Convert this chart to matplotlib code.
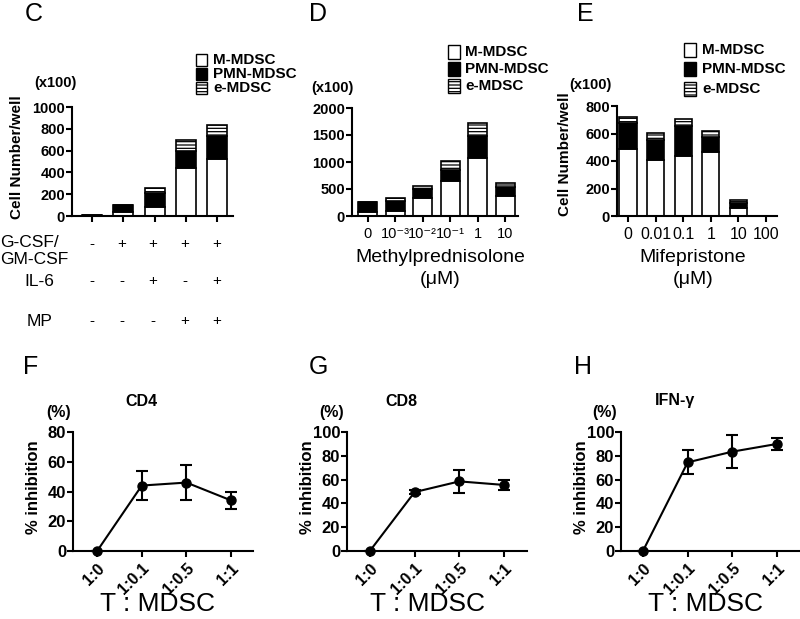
import matplotlib
matplotlib.use("Agg")
import matplotlib.pyplot as plt
from matplotlib.patches import Rectangle
import numpy as np

plt.rcParams['font.family'] = ['Liberation Sans', 'DejaVu Sans']
plt.rcParams['hatch.linewidth'] = 0.9

# ---------------- data ----------------
series_names = ["M-MDSC", "PMN-MDSC", "e-MDSC"]

c_m   = [3, 35, 78, 440, 525]
c_pmn = [2, 70, 135, 160, 210]
c_e   = [0, 0, 42, 100, 100]
c_rows = ["G-CSF/\nGM-CSF", "IL-6", "MP"]
c_signs = [["-", "+", "+", "+", "+"],
           ["-", "-", "+", "-", "+"],
           ["-", "-", "-", "+", "+"]]

d_labels = ["0", "10\u207b\u00b3", "10\u207b\u00b2", "10\u207b\u00b9", "1", "10"]
d_m   = [75, 95, 330, 645, 1065, 370]
d_pmn = [180, 185, 170, 205, 415, 175]
d_e   = [10, 45, 60, 165, 245, 60]

e_labels = ["0", "0.01", "0.1", "1", "10", "100"]
e_m   = [487, 407, 439, 468, 55, 2]
e_pmn = [187, 146, 215, 109, 40, 1]
e_e   = [44, 48, 51, 39, 20, 0]

ratio_labels = ["1:0", "1:0.1", "1:0.5", "1:1"]
cd4_mean = [0, 44, 46, 34]
cd4_err  = [0, 9.5, 11.5, 5.5]
cd8_mean = [0, 49.5, 58.5, 55.5]
cd8_err  = [0, 2, 9.7, 4]
ifn_mean = [0, 74.5, 83.5, 90]
ifn_err  = [0, 10, 14, 5]

# ---------------- layout helpers ----------------
W, H = 800, 619
fig = plt.figure(figsize=(W / 100, H / 100), dpi=100)


def axes_px(l, t, r, b):
    return fig.add_axes([l / W, 1 - b / H, (r - l) / W, (b - t) / H])


def fx(x):
    return x / W


def fy(y):
    return 1 - y / H


def style_axes(ax, ysize, bold=True):
    for s in ["top", "right"]:
        ax.spines[s].set_visible(False)
    for s in ["left", "bottom"]:
        ax.spines[s].set_linewidth(1.5)
    ax.tick_params(axis="both", width=1.5, length=4, direction="out", pad=1)
    for lab in ax.get_yticklabels():
        lab.set_fontsize(ysize)
        lab.set_fontweight("bold" if bold else "normal")


def stacked(ax, m, pmn, e, width):
    x = np.arange(len(m))
    m = np.array(m); pmn = np.array(pmn); e = np.array(e)
    ax.bar(x, m, width, color="white", edgecolor="black", linewidth=1.2, zorder=2)
    ax.bar(x, pmn, width, bottom=m, color="black", edgecolor="black", linewidth=1.2, zorder=2)
    ax.bar(x, e, width, bottom=m + pmn, color="white", edgecolor="black",
           hatch="-----", linewidth=1.2, zorder=2)
    return x


def legend_px(x_box, ys, x_text, size=11, bw=11, bh=13):
    styles = [dict(facecolor="white", hatch=None),
              dict(facecolor="black", hatch=None),
              dict(facecolor="white", hatch="-----")]
    for y, name, st in zip(ys, series_names, styles):
        r = Rectangle((fx(x_box), fy(y + bh / 2)), bw / W, bh / H,
                      transform=fig.transFigure, edgecolor="black",
                      linewidth=1.0, **st)
        fig.add_artist(r)
        fig.text(fx(x_text), fy(y), name, fontsize=size, fontweight="bold",
                 va="center", ha="left")


# ---------------- panel C ----------------
axC = axes_px(72, 107, 233, 216)
xc = stacked(axC, c_m, c_pmn, c_e, 0.64)
axC.set_xlim(-0.64, 4.5)
axC.set_ylim(0, 1000)
axC.set_yticks([0, 200, 400, 600, 800, 1000])
axC.set_xticks(xc)
axC.set_xticklabels([""] * len(xc))
style_axes(axC, 10.5)
fig.text(fx(17), fy(157), "Cell Number/well", rotation=90, fontsize=11,
         fontweight="bold", ha="center", va="center")
fig.text(fx(55), fy(83), "(x100)", fontsize=10.5, fontweight="bold",
         ha="center", va="center")
legend_px(196, [60, 74, 88], 213, size=11, bw=11, bh=12)
fig.text(fx(34), fy(14), "C", fontsize=18, ha="center", va="center")

# condition table under C
xpix = [92, 122, 153, 185, 217]
row_y = [244, 281, 321]
fig.text(fx(0), fy(251), c_rows[0], fontsize=12.5, ha="left", va="center",
         linespacing=1.1)
fig.text(fx(39), fy(row_y[1]), c_rows[1], fontsize=12.5, ha="center", va="center")
fig.text(fx(40), fy(row_y[2]), c_rows[2], fontsize=12.5, ha="center", va="center")
for ry, signs in zip(row_y, c_signs):
    for xp, s in zip(xpix, signs):
        fig.text(fx(xp), fy(ry), s, fontsize=11, ha="center", va="center")

# ---------------- panel D ----------------
axD = axes_px(352, 108, 518, 216)
xd = stacked(axD, d_m, d_pmn, d_e, 0.69)
axD.set_xlim(-0.58, 5.47)
axD.set_ylim(0, 2000)
axD.set_yticks([0, 500, 1000, 1500, 2000])
axD.set_xticks(xd)
axD.set_xticklabels(d_labels, fontsize=10.5)
style_axes(axD, 10.5)
axD.tick_params(axis="x", pad=4)
fig.text(fx(332), fy(88), "(x100)", fontsize=10.5, fontweight="bold",
         ha="center", va="center")
legend_px(448, [52, 69, 86], 465, size=11, bw=12, bh=13)
fig.text(fx(440), fy(258), "Methylprednisolone", fontsize=14, ha="center", va="center")
fig.text(fx(440), fy(280), "(\u03bcM)", fontsize=14, ha="center", va="center")
fig.text(fx(318), fy(14), "D", fontsize=18, ha="center", va="center")

# ---------------- panel E ----------------
axE = axes_px(617, 106, 777, 216)
xe = stacked(axE, e_m, e_pmn, e_e, 0.63)
axE.set_xlim(-0.4, 5.4)
axE.set_ylim(0, 800)
axE.set_yticks([0, 200, 400, 600, 800])
axE.set_xticks(xe)
axE.set_xticklabels(e_labels, fontsize=11.5)
style_axes(axE, 10.5)
axE.tick_params(axis="x", pad=4)
fig.text(fx(565), fy(154), "Cell Number/well", rotation=90, fontsize=11,
         fontweight="bold", ha="center", va="center")
fig.text(fx(590), fy(85), "(x100)", fontsize=10.5, fontweight="bold",
         ha="center", va="center")
legend_px(684, [50, 69, 89], 702, size=11, bw=12, bh=14)
fig.text(fx(693), fy(258), "Mifepristone", fontsize=14, ha="center", va="center")
fig.text(fx(693), fy(280), "(\u03bcM)", fontsize=14, ha="center", va="center")
fig.text(fx(585), fy(14), "E", fontsize=18, ha="center", va="center")


# ---------------- panels F, G, H ----------------
def line_panel(box, mean, err, ylim, yticks, title, title_x, lab_x, pct_x,
               xlab_x, letter, letter_x, xlim):
    ax = axes_px(*box)
    x = np.arange(len(mean))
    ax.errorbar(x, mean, yerr=err, color="black", marker="o", markersize=6.5,
                linewidth=1.5, elinewidth=1.5, capsize=4, capthick=1.5,
                clip_on=False, zorder=3)
    ax.set_xlim(*xlim)
    ax.set_ylim(*ylim)
    ax.set_yticks(yticks)
    ax.set_xticks(x)
    ax.set_xticklabels(ratio_labels, rotation=45, ha="right",
                       rotation_mode="anchor", fontsize=11.5, fontweight="bold")
    style_axes(ax, 12)
    ax.tick_params(axis="x", pad=3)
    fig.text(fx(title_x), fy(401), title, fontsize=11.5, fontweight="bold",
             ha="center", va="center")
    fig.text(fx(lab_x), fy(487), "% inhibition", rotation=90, fontsize=12,
             fontweight="bold", ha="center", va="center")
    fig.text(fx(pct_x), fy(413), "(%)", fontsize=11.5, fontweight="bold",
             ha="center", va="center")
    fig.text(fx(xlab_x), fy(604), "T : MDSC", fontsize=19, ha="center",
             va="center")
    fig.text(fx(letter_x), fy(367), letter, fontsize=18, ha="center",
             va="center")
    return ax


line_panel((73, 432, 253, 551), cd4_mean, cd4_err, (0, 80), [0, 20, 40, 60, 80],
           "CD4", 141, 33, 59, 157, "F", 31, (-0.54, 3.49))
line_panel((347, 432, 527, 551), cd8_mean, cd8_err, (0, 100),
           [0, 20, 40, 60, 80, 100], "CD8", 401, 308, 332, 428, "G", 318,
           (-0.51, 3.51))
line_panel((621, 432, 800, 551), ifn_mean, ifn_err, (0, 100),
           [0, 20, 40, 60, 80, 100], "IFN-\u03b3", 675, 582, 605, 705, "H", 583,
           (-0.49, 3.51))

fig.savefig("out.png", dpi=100)
